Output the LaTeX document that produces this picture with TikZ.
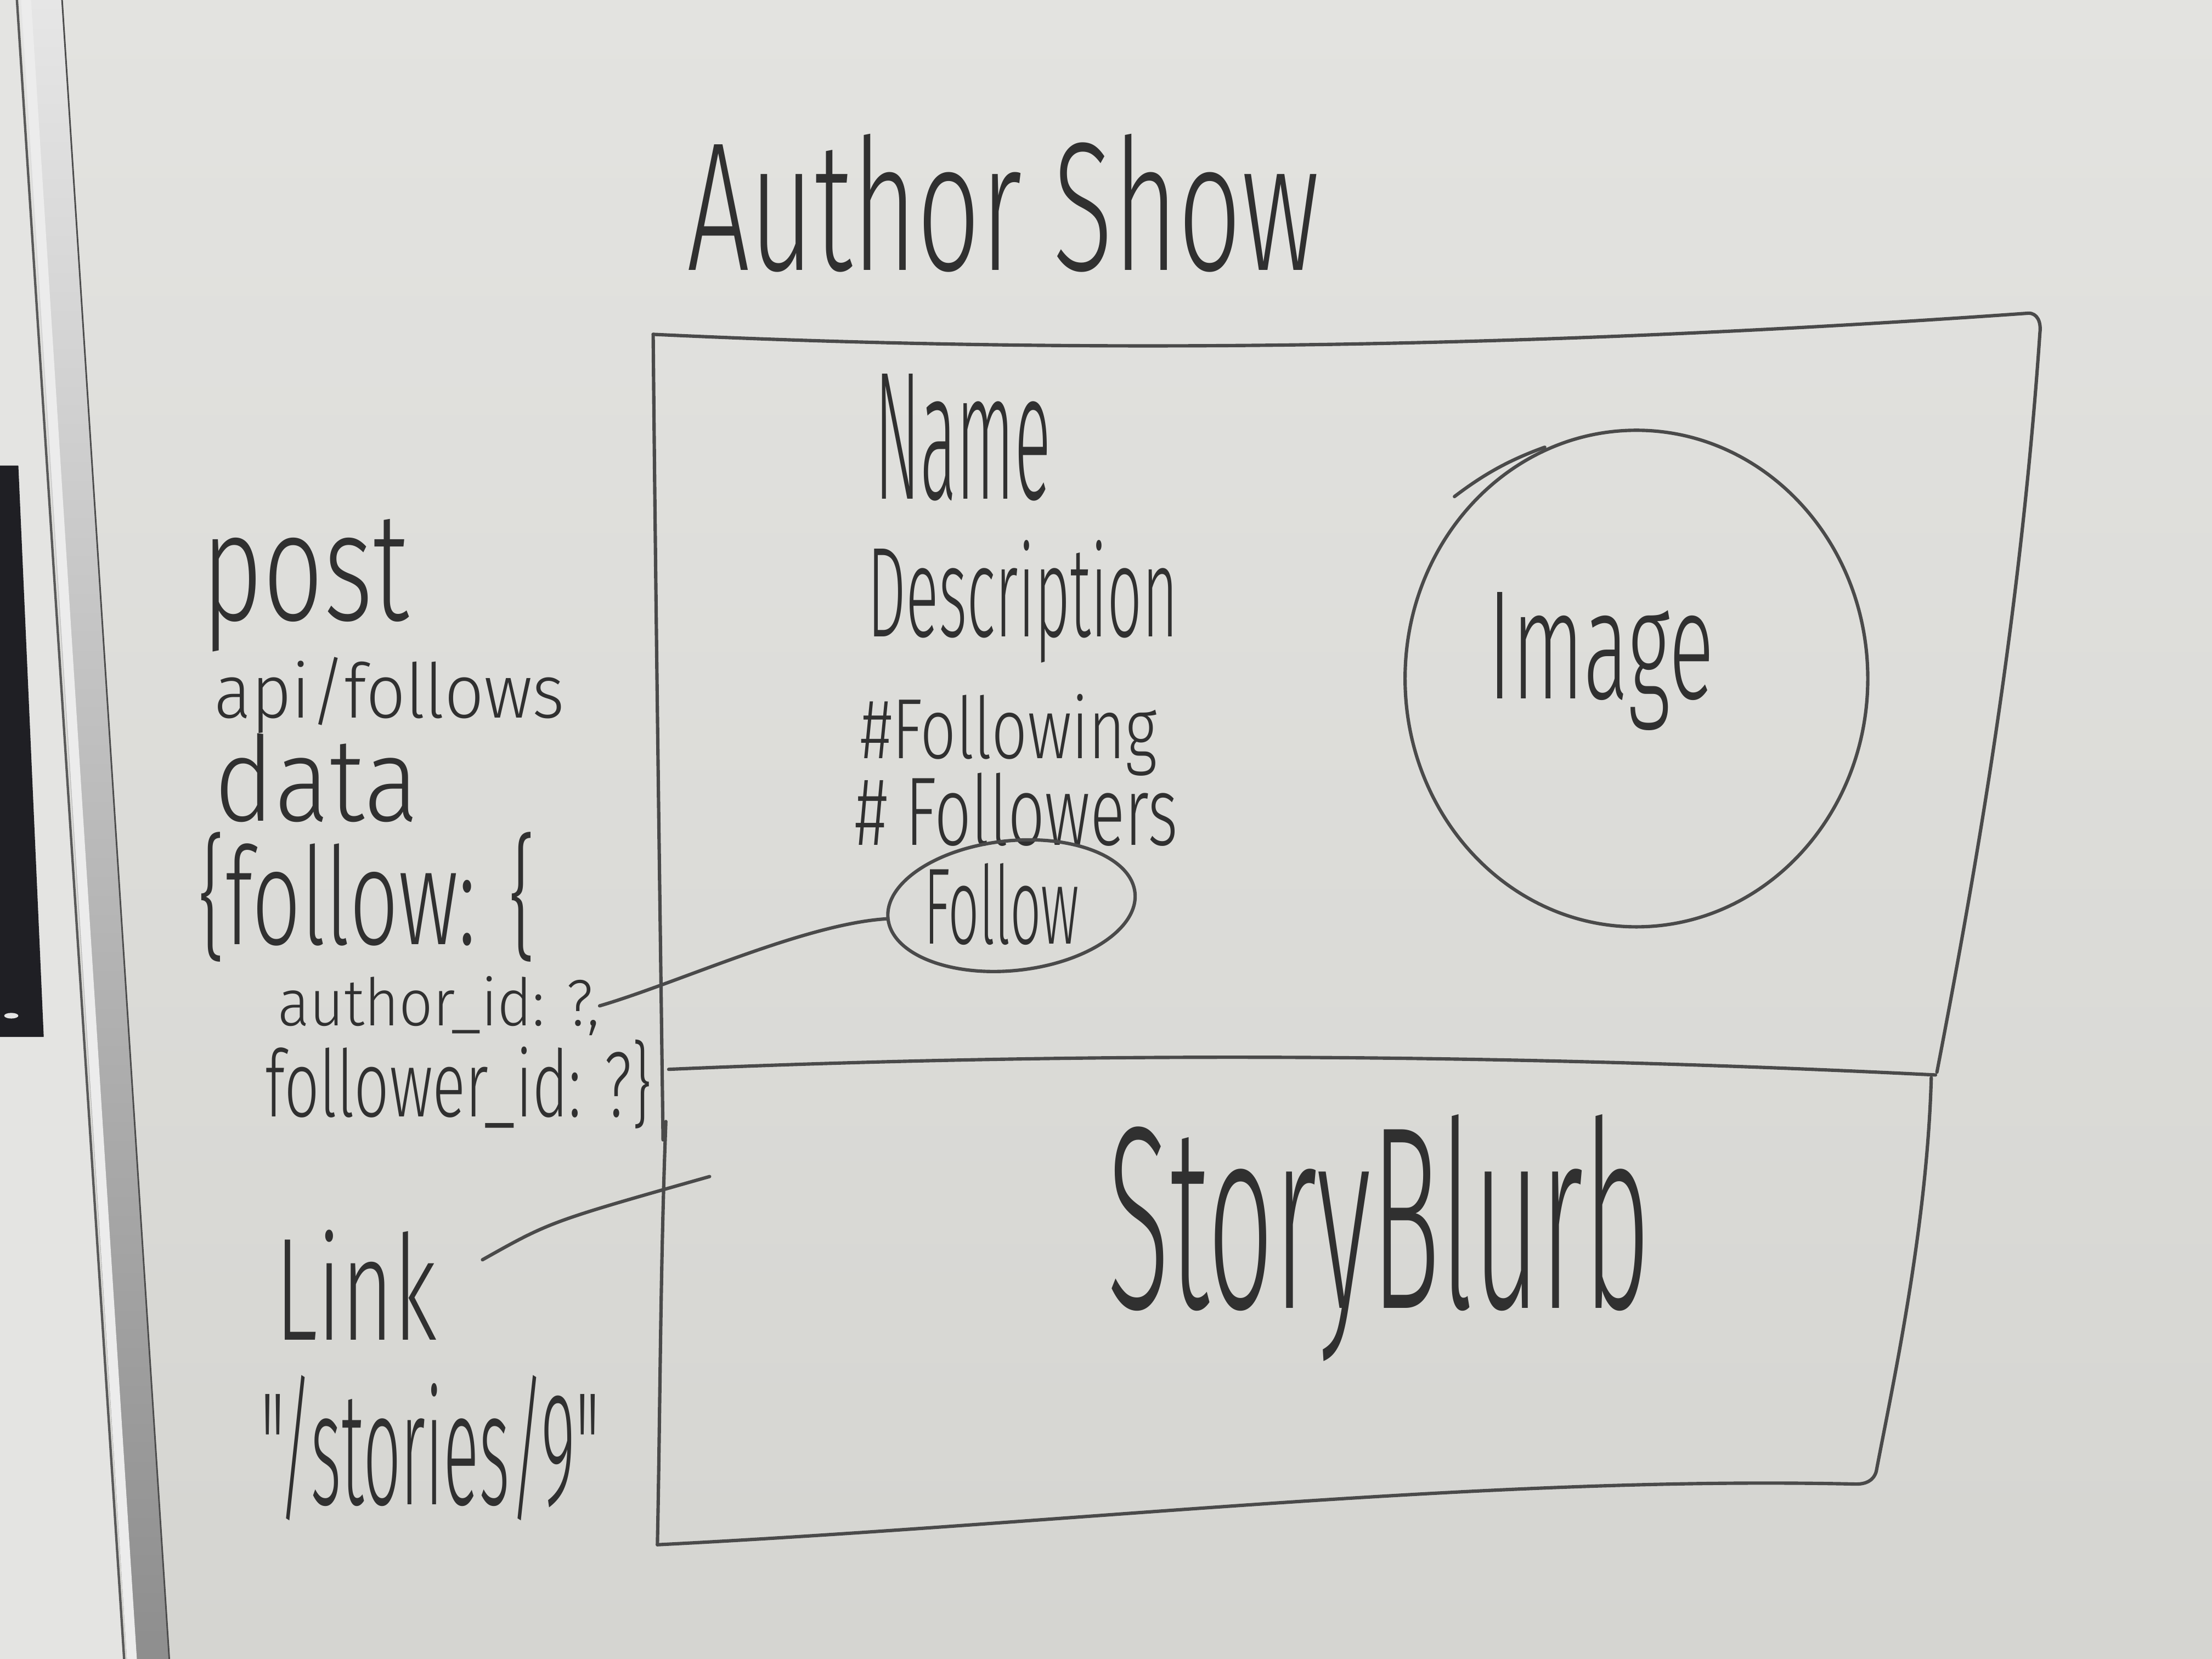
\documentclass[tikz,border=0pt]{standalone}
\usepackage{fontspec}
\usepackage{graphicx}
\usetikzlibrary{shapes.geometric}

% thin marker-like face, with fallbacks
\IfFontExistsTF{Fira Sans Light}{\newfontfamily\handfont{Fira Sans Light}}{%
 \IfFontExistsTF{Fira Sans ExtraLight}{\newfontfamily\handfont{Fira Sans ExtraLight}}{%
  \IfFontExistsTF{DejaVu Sans ExtraLight}{\newfontfamily\handfont{DejaVu Sans ExtraLight}}{%
   \IfFontExistsTF{Lato Light}{\newfontfamily\handfont{Lato Light}}{%
    \newfontfamily\handfont{Fira Sans}}}}}

% one drawing unit
\newlength\upx
\setlength\upx{0.025cm}
% text set into a box of given width and total height (in drawing units)
\newcommand\handtext[3]{\resizebox*{#1\upx}{#2\upx}{\handfont #3}}

\definecolor{boardtop}{HTML}{E3E3E0}
\definecolor{boardbot}{HTML}{D5D5D1}
\definecolor{wall}{HTML}{E4E4E2}
\definecolor{panel}{HTML}{1F1F24}
\definecolor{metaltop}{HTML}{E6E6E6}
\definecolor{metalbot}{HTML}{8E8E8E}
\definecolor{ink}{HTML}{303030}
\definecolor{pen}{HTML}{4A4A4A}

\begin{document}
\begin{tikzpicture}[x=0.025cm, y=-0.025cm,
  marker/.style={draw=pen, line width=1.7pt, line cap=round, line join=round},
  note/.style={inner sep=0pt, outer sep=0pt, anchor=north west, text=ink}]

\useasboundingbox (0,0) rectangle (1568,1176);

% board surface
\shade[top color=boardtop, bottom color=boardbot] (0,0) rectangle (1568,1176);

% wall, dark panel and aluminium frame on the left
\fill[wall] (0,0) -- (12,0) -- (88,1176) -- (0,1176) -- cycle;
\fill[panel] (0,330) -- (13,330) -- (31,735) -- (0,735) -- cycle;
\fill[white!80!gray] (8,720) ellipse [x radius=5, y radius=2];
\shade[top color=metaltop, bottom color=metalbot] (14,0) -- (44,0) -- (120,1176) -- (90,1176) -- cycle;
\fill[white!85!gray] (15,0) -- (22,0) -- (97,1176) -- (90,1176) -- cycle;
\draw[gray!70!black, line width=1.2pt] (12,0) -- (88,1176);
\draw[gray!60!black, line width=0.8pt] (44,0) -- (120,1176);

% title
\node[note] (title) at (487,95) {\handtext{448}{98}{Author Show}};

% page outline: upper part
\draw[marker] (463,237) .. controls (780,252) and (1100,246) .. (1438,222)
  .. controls (1444,222) and (1447,228) .. (1446,236)
  .. controls (1432,440) and (1400,620) .. (1373,760);
\draw[marker] (463,237) .. controls (465,450) and (468,650) .. (470,808);
% divider
\draw[marker] (474,758) .. controls (750,746) and (1050,746) .. (1372,762);
% page outline: lower part
\draw[marker] (1369,764) .. controls (1366,870) and (1342,980) .. (1330,1043)
  .. controls (1328,1050) and (1322,1052) .. (1316,1052)
  .. controls (1050,1046) and (760,1080) .. (466,1095);
\draw[marker] (472,795) .. controls (468,900) and (468,1000) .. (466,1095);

% profile fields
\node[note] (name) at (620,265) {\handtext{125}{90}{Name}};
\node[note] (desc) at (615,383) {\handtext{220}{87}{Description}};
\node[note] (following) at (610,492) {\handtext{210}{58}{\#Following}};
\node[note] (followers) at (606,548) {\handtext{229}{52}{\# Followers}};
\node[note] (followtxt) at (655,612) {\handtext{110}{58}{Follow}};
\node[marker, ellipse, rotate=6, minimum width=176\upx, minimum height=92\upx,
  inner sep=0pt] (followbtn) at (717,642) {};

% image placeholder
\node[marker, ellipse, minimum width=328\upx, minimum height=352\upx] (imgcircle) at (1160,481) {};
\draw[marker] (1031,352) .. controls (1052,336) and (1070,326) .. (1095,317);
\node[note] (image) at (1055,420) {\handtext{160}{98}{Image}};

% story blurb
\node[note] (blurb) at (785,790) {\handtext{385}{175}{StoryBlurb}};

% request notes
\node[note] (post) at (143,368) {\handtext{147}{94}{post}};
\node[note] (api) at (152,466) {\handtext{248}{54}{api/follows}};
\node[note] (data) at (152,520) {\handtext{145}{63}{data}};
\node[note] (followobj) at (140,590) {\handtext{240}{92}{\{follow: \{}};
\node[note] (aid) at (197,692) {\handtext{228}{42}{author\_id: ?,}};
\node[note] (fid) at (188,737) {\handtext{274}{63}{follower\_id: ?\}}};

% link notes
\node[note] (link) at (195,872) {\handtext{115}{78}{Link}};
\node[note] (path) at (185,975) {\handtext{240}{103}{"/stories/9"}};

% connectors
\draw[marker] (followbtn.west) .. controls (570,655) and (480,697) .. (aid.east);
\coordinate (linktail) at (342,893);
\coordinate (linkhead) at (503,834);
\draw[marker] (linktail) .. controls (390,866) .. (linkhead);

\end{tikzpicture}
\end{document}
